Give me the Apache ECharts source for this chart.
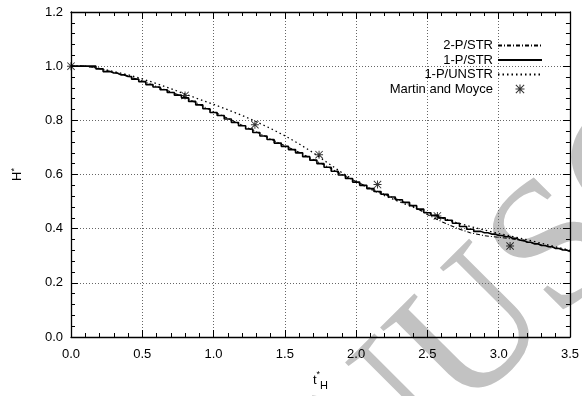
<!DOCTYPE html>
<html>
<head>
<meta charset="utf-8">
<script src="https://cdn.jsdelivr.net/npm/echarts@6/dist/echarts.min.js"></script>
<style>
html,body{margin:0;padding:0;background:#fff;}
#chart{width:582px;height:396px;}
</style>
</head>
<body>
<div id="chart"></div>
<script>
// ---- data ----
const tFine = [0.00,0.05,0.10,0.15,0.20,0.25,0.30,0.35,0.40,0.45,0.50,0.55,0.60,0.65,0.70,0.75,0.80,0.85,0.90,0.95,
  1.00,1.05,1.10,1.15,1.20,1.25,1.30,1.35,1.40,1.45,1.50,1.55,1.60,1.65,1.70,1.75,1.80,1.85,1.90,1.95,
  2.00,2.05,2.10,2.15,2.20,2.25,2.30,2.35,2.40,2.45,2.50,2.55,2.60,2.65,2.70,2.75,2.80,2.85,2.90,2.95,
  3.00,3.05,3.10,3.15,3.20,3.25,3.30,3.35,3.40,3.45,3.50];
const h1PSTR = [1.000,1.000,1.000,1.000,0.990,0.980,0.975,0.968,0.962,0.952,0.943,0.932,0.923,0.913,0.903,0.893,0.883,0.870,0.857,0.843,
  0.829,0.818,0.805,0.792,0.780,0.768,0.755,0.742,0.729,0.716,0.704,0.692,0.680,0.666,0.653,0.640,0.627,0.612,0.598,0.585,
  0.572,0.560,0.548,0.537,0.527,0.517,0.507,0.497,0.485,0.472,0.459,0.449,0.440,0.431,0.420,0.408,0.398,0.390,0.385,0.380,
  0.375,0.370,0.364,0.357,0.350,0.344,0.338,0.333,0.327,0.321,0.316];
const tCoarse = [0.0,0.1,0.2,0.3,0.4,0.5,0.6,0.7,0.8,0.9,1.0,1.1,1.2,1.3,1.4,1.5,1.6,1.7,1.8,1.9,
  2.0,2.1,2.2,2.3,2.4,2.5,2.6,2.7,2.8,2.9,3.0,3.1,3.2,3.3,3.4,3.5];
const h1PUNSTR = [1.000,1.000,0.992,0.980,0.968,0.953,0.936,0.917,0.897,0.878,0.859,0.839,0.818,0.795,0.770,0.743,0.713,0.680,0.643,0.607,
  0.574,0.546,0.522,0.500,0.479,0.458,0.440,0.423,0.408,0.395,0.382,0.371,0.359,0.346,0.333,0.320];
const h2PSTR = [1.000,1.000,0.991,0.977,0.963,0.945,0.925,0.905,0.885,0.859,0.832,0.807,0.782,0.757,0.731,0.706,0.682,0.655,0.629,0.600,
  0.574,0.549,0.527,0.506,0.483,0.452,0.426,0.403,0.385,0.374,0.368,0.362,0.352,0.340,0.329,0.318];
const tMM = [0.00,0.80,1.29,1.74,2.15,2.57,3.08];
const hMM = [1.000,0.892,0.784,0.673,0.563,0.447,0.336];
const xTicks = ['0.0','0.5','1.0','1.5','2.0','2.5','3.0','3.5'];
const yTicks = ['0.0','0.2','0.4','0.6','0.8','1.0','1.2'];
const seriesNames = ['2-P/STR','1-P/STR','1-P/UNSTR','Martin and Moyce'];

const zip = (a,b) => a.map((v,i)=>[v,b[i]]);
const FONT = '"Liberation Sans", Arial, sans-serif';
const ASTER = 'path://M0 4.4L10 4.4L10 5.6L0 5.6Z M4.4 0L5.6 0L5.6 10L4.4 10Z M0.8 0L10 9.2L9.2 10L0 0.8Z M9.2 0L10 0.8L0.8 10L0 9.2Z';
const WM_FONT = '185px "Liberation Serif", "Times New Roman", serif';
const hideSym = {color:'rgba(0,0,0,0)', borderWidth:0, opacity:0};

const chart = echarts.init(document.getElementById('chart'), null, {renderer:'canvas'});

const baseX = {
  type:'value', min:0, max:3.5, interval:0.5,
  axisLine:{show:true, onZero:false, lineStyle:{color:'#000', width:1.3}},
  axisTick:{show:true, inside:true, length:7, lineStyle:{color:'#000', width:1}},
  minorTick:{show:true, splitNumber:5, length:4, lineStyle:{color:'#000', width:1}},
  splitLine:{show:false}
};
const baseY = {
  type:'value', min:0, max:1.2, interval:0.2,
  axisLine:{show:true, onZero:false, lineStyle:{color:'#000', width:1.3}},
  axisTick:{show:true, inside:true, length:7, lineStyle:{color:'#000', width:1}},
  minorTick:{show:true, splitNumber:5, length:4, lineStyle:{color:'#000', width:1}},
  splitLine:{show:false}
};

const option = {
  animation:false,
  backgroundColor:'#fff',
  textStyle:{fontFamily:FONT},
  grid:{left:71, right:11, top:12, bottom:50, containLabel:false},
  graphic:[
    {type:'text', z:-10, silent:true, x:494, y:447, rotation:Math.PI/4,
     style:{text:'USCRIPT', font:WM_FONT, fill:'#c2c2c2', textAlign:'left', textVerticalAlign:'bottom'}},
    {type:'text', z:-10, silent:true, x:494, y:447, rotation:Math.PI/4,
     style:{text:'ACCEPTED MAN', font:WM_FONT, fill:'#c2c2c2', textAlign:'right', textVerticalAlign:'bottom'}}
  ],
  legend:{
    orient:'vertical', right:39, top:39, align:'right', padding:0,
    itemWidth:44, itemHeight:9, itemGap:1.5,
    textStyle:{fontFamily:FONT, fontSize:13, color:'#000'},
    data:[
      {name:seriesNames[0], itemStyle:hideSym},
      {name:seriesNames[1], itemStyle:hideSym},
      {name:seriesNames[2], itemStyle:hideSym},
      {name:seriesNames[3], icon:ASTER}
    ],
    selectedMode:false
  },
  xAxis:[
    Object.assign({}, baseX, {
      position:'bottom',
      name:'t{sup|*}{sub|H}', nameLocation:'middle', nameGap:33,
      nameTextStyle:{fontFamily:FONT, fontSize:13, color:'#000',
        rich:{sup:{fontSize:9, fontFamily:FONT, color:'#000', verticalAlign:'top', padding:[0,0,6,0]},
              sub:{fontSize:11, fontFamily:FONT, color:'#000', padding:[10,0,0,0]}}},
      axisLabel:{show:true, margin:11, fontFamily:FONT, fontSize:13, color:'#000',
        formatter:(v)=>{const s=v.toFixed(1); return xTicks.indexOf(s)>=0?s:'';}},
      splitLine:{show:true, lineStyle:{color:'#666', width:1, type:[1,2]}}
    }),
    Object.assign({}, baseX, {position:'top', axisLabel:{show:false}})
  ],
  yAxis:[
    Object.assign({}, baseY, {
      position:'left',
      name:'H{sup|*}', nameLocation:'middle', nameGap:46, nameRotate:90,
      nameTextStyle:{fontFamily:FONT, fontSize:13, color:'#000',
        rich:{sup:{fontSize:9, fontFamily:FONT, color:'#000', padding:[0,0,6,0]}}},
      axisLabel:{show:true, margin:8, fontFamily:FONT, fontSize:13, color:'#000',
        formatter:(v)=>{const s=v.toFixed(1); return yTicks.indexOf(s)>=0?s:'';}},
      splitLine:{show:true, lineStyle:{color:'#666', width:1, type:[1,2]}}
    }),
    Object.assign({}, baseY, {position:'right', axisLabel:{show:false}})
  ],
  series:[
    {name:seriesNames[0], type:'line', xAxisIndex:0, yAxisIndex:0, symbol:'none', z:3,
     data:zip(tCoarse,h2PSTR),
     lineStyle:{color:'#000', width:1.1, type:[4,2,1,2]}, itemStyle:{color:'#000'}},
    {name:seriesNames[1], type:'line', xAxisIndex:0, yAxisIndex:0, symbol:'none', z:4, step:'middle',
     data:zip(tFine,h1PSTR),
     lineStyle:{color:'#000', width:1.6, type:'solid'}, itemStyle:{color:'#000'}},
    {name:seriesNames[2], type:'line', xAxisIndex:0, yAxisIndex:0, symbol:'none', z:3,
     data:zip(tCoarse,h1PUNSTR),
     lineStyle:{color:'#000', width:1.3, type:[1.5,3]}, itemStyle:{color:'#000'}},
    {name:seriesNames[3], type:'scatter', xAxisIndex:0, yAxisIndex:0, z:5,
     symbol:ASTER, symbolSize:8, symbolKeepAspect:true,
     data:zip(tMM,hMM), itemStyle:{color:'#000'}}
  ]
};
chart.setOption(option);
</script>
</body>
</html>
